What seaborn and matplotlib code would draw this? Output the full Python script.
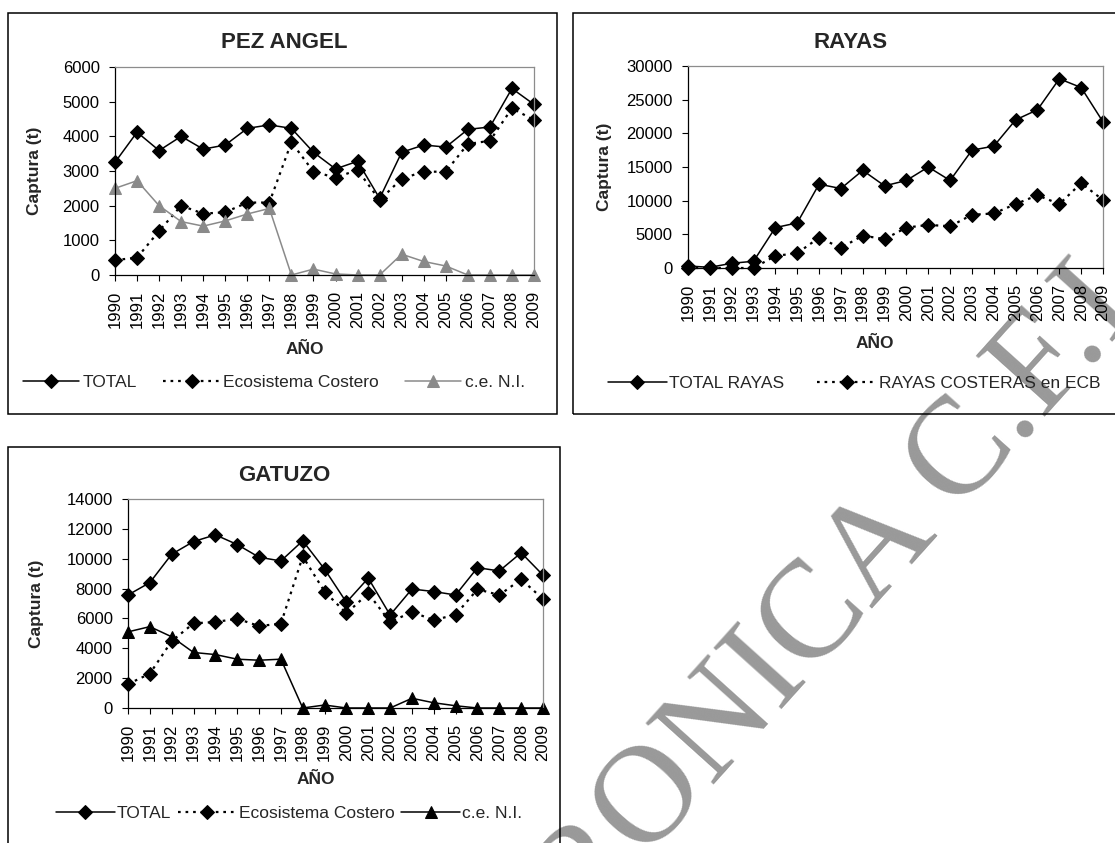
import numpy as np
import pandas as pd
import matplotlib
matplotlib.use("Agg")
import matplotlib.pyplot as plt
import seaborn as sns
from matplotlib.patches import Rectangle

# ---------------- data ----------------
years = list(range(1990, 2010))
year_labels = [str(y) for y in years]

angel_total = [3250, 4120, 3590, 4000, 3630, 3750, 4230, 4330, 4230, 3540,
               3060, 3280, 2210, 3540, 3750, 3690, 4200, 4270, 5380, 4920]
angel_costero = [430, 500, 1270, 2000, 1770, 1810, 2090, 2090, 3830, 2980,
                 2810, 3030, 2160, 2780, 2980, 2980, 3780, 3870, 4810, 4470]
angel_ceni = [2500, 2720, 2000, 1540, 1410, 1560, 1760, 1920, 0, 170,
              30, 0, 0, 600, 390, 260, 0, 0, 0, 0]

rayas_total = [300, 100, 700, 1000, 6000, 6700, 12450, 11800, 14500, 12200,
               13000, 15000, 13000, 17500, 18100, 22000, 23500, 28100, 26800, 21700]
rayas_ecb = [0, 0, 0, 0, 1800, 2200, 4500, 3000, 4800, 4300,
             6000, 6400, 6200, 7900, 8100, 9500, 10800, 9500, 12600, 10100]

gatuzo_total = [7570, 8400, 10300, 11150, 11600, 10950, 10100, 9850, 11200, 9300,
                7080, 8700, 6230, 7970, 7800, 7570, 9400, 9180, 10400, 8900]
gatuzo_costero = [1600, 2300, 4480, 5670, 5760, 5980, 5490, 5650, 10150, 7800,
                  6340, 7680, 5760, 6430, 5890, 6250, 7950, 7570, 8620, 7300]
gatuzo_ceni = [5100, 5450, 4770, 3720, 3580, 3270, 3200, 3270, 0, 200,
               0, 0, 0, 650, 350, 150, 0, 0, 0, 0]

# ---------------- style ----------------
sns.set_theme(style="ticks")
plt.rcParams["font.family"] = ["Liberation Sans", "DejaVu Sans"]

W, H = 1115, 843
fig = plt.figure(figsize=(W / 100, H / 100), dpi=100)
fig.patch.set_facecolor("white")


def fx(px):
    return px / W


def fy(py):
    return 1 - py / H


def add_axes(l, r, t, b):
    return fig.add_axes([fx(l), fy(b), fx(r) - fx(l), fy(t) - fy(b)])


def style(ax, ymax, ystep, ylab_x):
    ax.set_xlim(1990, 2009)
    ax.set_ylim(0, ymax)
    ax.set_xticks(years)
    ax.set_xticklabels(year_labels, rotation=90)
    yt = list(range(0, ymax + 1, ystep))
    ax.set_yticks(yt)
    ax.set_yticklabels([str(v) for v in yt])
    ax.tick_params(axis="x", direction="out", length=4.5, width=0.8, pad=7,
                   labelsize=12, colors="black", bottom=True)
    ax.tick_params(axis="y", direction="out", length=4, width=0.8, pad=7,
                   labelsize=12, colors="black", left=True)
    for s in ["top", "right"]:
        ax.spines[s].set_color("#8c8c8c")
        ax.spines[s].set_linewidth(0.9)
    for s in ["left", "bottom"]:
        ax.spines[s].set_color("black")
        ax.spines[s].set_linewidth(0.9)
    ax.set_facecolor("none")
    ax.set_xlabel("")
    ax.set_ylabel("Captura (t)", fontsize=12.5, fontweight="bold")
    ax.yaxis.label.set_va("center")
    ax.yaxis.set_label_coords(ylab_x, 0.5)


def box(l, r, t, b):
    fig.add_artist(Rectangle((fx(l), fy(b)), fx(r) - fx(l), fy(t) - fy(b),
                             transform=fig.transFigure, fill=False,
                             edgecolor="black", linewidth=1.1, zorder=1))


def legend(ax, cx, cy, ncol, hl, htp, cs):
    ax.legend(loc="center", bbox_to_anchor=(fx(cx), fy(cy)),
              bbox_transform=fig.transFigure, ncol=ncol, frameon=False,
              fontsize=12.5, handlelength=hl, handletextpad=htp,
              columnspacing=cs, borderaxespad=0, borderpad=0)


DOT = (0, (1.2, 2.2))
MS = 7.5
TS = 8.5

# ---------------- watermark ----------------
wm = dict(fontsize=100, family="Liberation Serif", color="#999999", rotation=48,
          rotation_mode="anchor", va="baseline", zorder=-5)
fig.text(fx(645), fy(862), "ONICA C.F.I.", ha="left", **wm)
fig.text(fx(645), fy(862), "ELECTR", ha="right", **wm)

# ---------------- panel 1: PEZ ANGEL ----------------
box(8, 557, 13, 414)
ax1 = add_axes(115, 534, 67, 275)
sns.lineplot(x=years, y=angel_total, ax=ax1, color="black", lw=1.1, marker="D",
             markersize=MS, markeredgecolor="black", label="TOTAL", clip_on=False)
sns.lineplot(x=years, y=angel_costero, ax=ax1, color="black", lw=1.6, linestyle=DOT,
             marker="D", markersize=MS, markeredgecolor="black",
             label="Ecosistema Costero", clip_on=False)
sns.lineplot(x=years, y=angel_ceni, ax=ax1, color="#8a8a8a", lw=1.1, marker="^",
             markersize=TS, markeredgecolor="#8a8a8a", label="c.e. N.I.", clip_on=False)
style(ax1, 6000, 1000, (35 - 115) / 419)
legend(ax1, 274, 382, 3, 3.25, 0.2, 1.5)
fig.text(fx(284), fy(43), "PEZ ANGEL", ha="center", va="center", fontsize=16,
         fontweight="bold")
fig.text(fx(305), fy(349), "AÑO", ha="center", va="center", fontsize=12.5,
         fontweight="bold")

# ---------------- panel 2: RAYAS ----------------
box(573, 1125, 13, 414)
ax2 = add_axes(688, 1103, 66, 268)
sns.lineplot(x=years, y=rayas_total, ax=ax2, color="black", lw=1.1, marker="D",
             markersize=MS, markeredgecolor="black", label="TOTAL RAYAS", clip_on=False)
sns.lineplot(x=years, y=rayas_ecb, ax=ax2, color="black", lw=1.6, linestyle=DOT,
             marker="D", markersize=MS, markeredgecolor="black",
             label="RAYAS COSTERAS en ECB", clip_on=False)
style(ax2, 30000, 5000, (605 - 688) / 415)
legend(ax2, 854, 383, 2, 3.4, 0.15, 1.9)
fig.text(fx(851), fy(43), "RAYAS", ha="center", va="center", fontsize=16,
         fontweight="bold")
fig.text(fx(875), fy(344), "AÑO", ha="center", va="center", fontsize=12.5,
         fontweight="bold")

# ---------------- panel 3: GATUZO ----------------
box(8, 560, 447, 860)
ax3 = add_axes(128, 543, 499, 708)
sns.lineplot(x=years, y=gatuzo_total, ax=ax3, color="black", lw=1.1, marker="D",
             markersize=MS, markeredgecolor="black", label="TOTAL", clip_on=False)
sns.lineplot(x=years, y=gatuzo_costero, ax=ax3, color="black", lw=1.6, linestyle=DOT,
             marker="D", markersize=MS, markeredgecolor="black",
             label="Ecosistema Costero", clip_on=False)
sns.lineplot(x=years, y=gatuzo_ceni, ax=ax3, color="black", lw=1.1, marker="^",
             markersize=TS, markeredgecolor="black", label="c.e. N.I.", clip_on=False)
style(ax3, 14000, 2000, (36 - 128) / 415)
legend(ax3, 289, 813, 3, 3.4, 0.1, 0.4)
fig.text(fx(284), fy(476), "GATUZO", ha="center", va="center", fontsize=16,
         fontweight="bold")
fig.text(fx(316), fy(780), "AÑO", ha="center", va="center", fontsize=12.5,
         fontweight="bold")

fig.savefig("out.png", dpi=100, facecolor="white")
